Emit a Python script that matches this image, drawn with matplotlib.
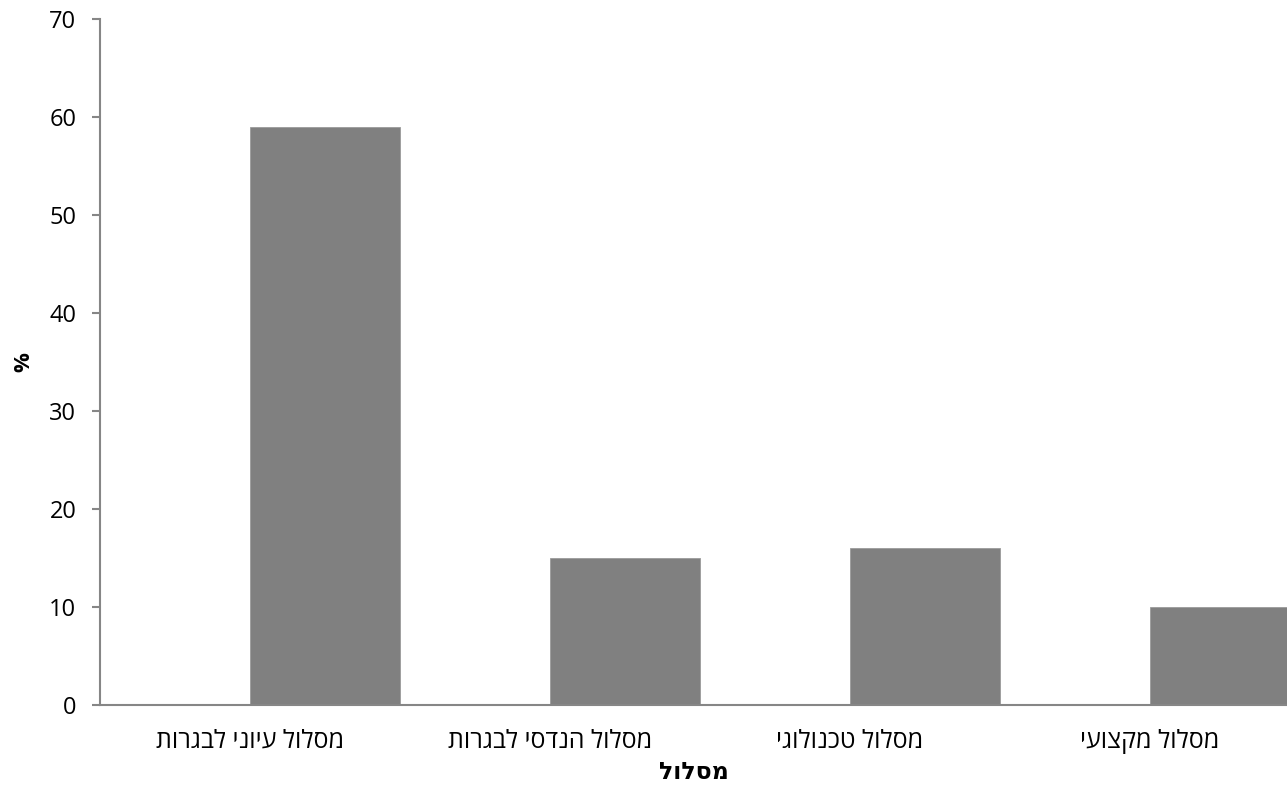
import matplotlib
matplotlib.use("Agg")
import matplotlib.pyplot as plt

plt.rcParams['font.family'] = ['Open Sans', 'DejaVu Sans']

categories = ["מסלול עיוני לבגרות", "מסלול הנדסי לבגרות", "מסלול טכנולוגי", "מסלול מקצועי"]
values = [59, 15, 16, 10]
yticks = [0, 10, 20, 30, 40, 50, 60, 70]


def rtl(s):
    # matplotlib has no bidi support, so reverse hebrew to visual order
    return s[::-1]


fig = plt.figure(figsize=(12.87, 7.9), dpi=100)
ax = fig.add_axes([100 / 1287, 85 / 790, 1187 / 1287, 686 / 790])

pos = list(range(len(categories)))
ax.bar(pos, values, width=0.5, align='edge', color='#808080',
       edgecolor='#9a9a9a', linewidth=0.6, zorder=2)

ax.set_xlim(-0.5, 3.5 - 13 / 300)
ax.set_ylim(0, 70)
ax.set_yticks(yticks)
ax.set_xticks(pos)
ax.set_xticklabels([rtl(c) for c in categories], fontsize=18)
ax.tick_params(axis='x', length=0, pad=17)
ax.tick_params(axis='y', length=6, width=1.5, color='#868686', labelsize=17, pad=11)

for s in ['top', 'right']:
    ax.spines[s].set_visible(False)
for s in ['left', 'bottom']:
    ax.spines[s].set_color('#868686')
    ax.spines[s].set_linewidth(1.5)

ax.set_xlabel(rtl("מסלול"), fontsize=17, fontweight='bold')
ax.xaxis.set_label_coords(0.5, -56 / 686)
ax.set_ylabel("%", fontsize=16, fontweight='bold')
ax.yaxis.set_label_coords(-66 / 1187, 0.5)

fig.savefig("out.png", dpi=100)
plt.close(fig)
